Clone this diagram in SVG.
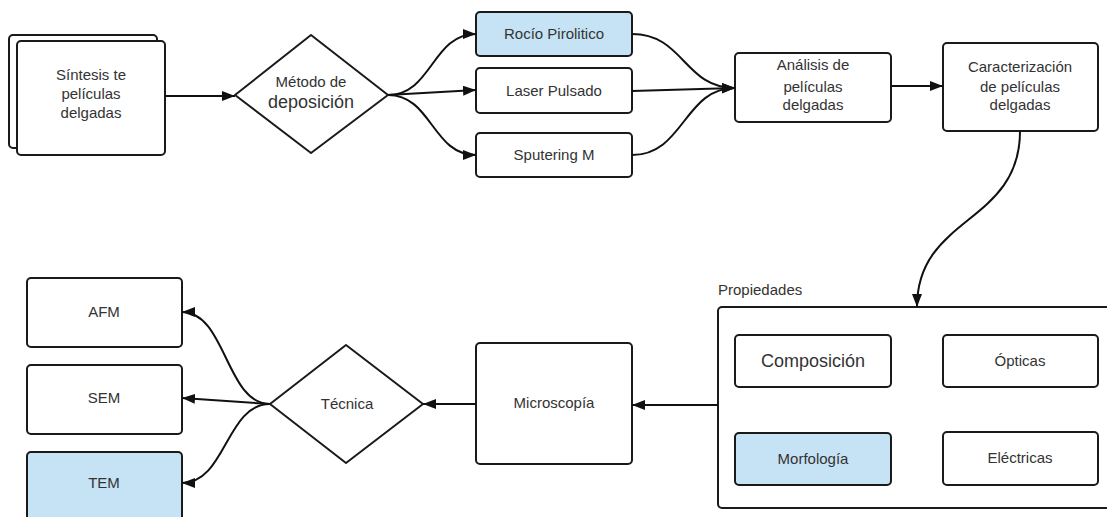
<svg xmlns="http://www.w3.org/2000/svg" width="1107" height="517" viewBox="0 0 1107 517">
  <defs>
    <marker id="arrow" markerUnits="userSpaceOnUse" markerWidth="14" markerHeight="12" refX="13" refY="5" orient="auto">
      <path d="M0,0 L13,5 L0,10 Z" fill="#111"/>
    </marker>
    <style>
      .box { fill: #ffffff; stroke: #1a1a1a; stroke-width: 2; }
      .hl { fill: #c6e3f5; }
      .lbl { font-family: "Liberation Sans", Arial, sans-serif; font-size: 15px; fill: #333; text-anchor: middle; }
      .big { font-size: 18px; }
      .edge { fill: none; stroke: #111; stroke-width: 2; marker-end: url(#arrow); }
    </style>
  </defs>
  <rect width="1107" height="517" fill="#ffffff"/>

  <!-- stacked source document -->
  <g id="sintesis">
    <rect class="box" x="9" y="35" width="148" height="113" rx="4"/>
    <rect class="box" x="17" y="41" width="148" height="114" rx="4"/>
    <text class="lbl" x="91" y="80">Síntesis te</text>
    <text class="lbl" x="91" y="99">películas</text>
    <text class="lbl" x="91" y="118">delgadas</text>
  </g>

  <g id="metodo">
    <path class="box" d="M311,35 L388,95 L311,153 L235,95 Z" stroke-linejoin="round"/>
    <text class="lbl" x="311" y="87">Método de</text>
    <text class="lbl big" x="311" y="108">deposición</text>
  </g>

  <g id="rocio">
    <rect class="box hl" x="476" y="12" width="156" height="44" rx="4"/>
    <text class="lbl" x="554" y="39">Rocío Pirolitico</text>
  </g>
  <g id="laser">
    <rect class="box" x="476" y="68" width="156" height="45" rx="4"/>
    <text class="lbl" x="554" y="96">Laser Pulsado</text>
  </g>
  <g id="sputering">
    <rect class="box" x="476" y="133" width="156" height="44" rx="4"/>
    <text class="lbl" x="554" y="160">Sputering M</text>
  </g>

  <g id="analisis">
    <rect class="box" x="735" y="53" width="156" height="69" rx="4"/>
    <text class="lbl" x="813" y="70">Análisis de</text>
    <text class="lbl" x="813" y="92">películas</text>
    <text class="lbl" x="813" y="110">delgadas</text>
  </g>
  <g id="caracterizacion">
    <rect class="box" x="943" y="43" width="155" height="88" rx="4"/>
    <text class="lbl" x="1020" y="72">Caracterización</text>
    <text class="lbl" x="1020" y="92">de películas</text>
    <text class="lbl" x="1020" y="110">delgadas</text>
  </g>

  <!-- properties container -->
  <g id="propiedades">
    <text class="lbl" x="718" y="295" style="text-anchor:start">Propiedades</text>
    <rect class="box" x="718" y="307" width="410" height="201" rx="4"/>
  </g>
  <g id="composicion">
    <rect class="box" x="735" y="335" width="156" height="52" rx="4"/>
    <text class="lbl big" x="813" y="367">Composición</text>
  </g>
  <g id="opticas">
    <rect class="box" x="943" y="335" width="155" height="52" rx="4"/>
    <text class="lbl" x="1020" y="366">Ópticas</text>
  </g>
  <g id="morfologia">
    <rect class="box hl" x="735" y="433" width="156" height="52" rx="4"/>
    <text class="lbl" x="813" y="464">Morfología</text>
  </g>
  <g id="electricas">
    <rect class="box" x="943" y="432" width="155" height="53" rx="4"/>
    <text class="lbl" x="1020" y="463">Eléctricas</text>
  </g>

  <g id="microscopia">
    <rect class="box" x="476" y="343" width="156" height="121" rx="4"/>
    <text class="lbl" x="554" y="408">Microscopía</text>
  </g>

  <g id="tecnica">
    <path class="box" d="M346,345 L423,404 L346,463 L270,404 Z" stroke-linejoin="round"/>
    <text class="lbl" x="347" y="409">Técnica</text>
  </g>

  <g id="afm">
    <rect class="box" x="27" y="278" width="155" height="69" rx="4"/>
    <text class="lbl" x="104" y="317">AFM</text>
  </g>
  <g id="sem">
    <rect class="box" x="27" y="365" width="155" height="69" rx="4"/>
    <text class="lbl" x="104" y="403">SEM</text>
  </g>
  <g id="tem">
    <rect class="box hl" x="27" y="452" width="155" height="75" rx="4"/>
    <text class="lbl" x="104" y="488">TEM</text>
  </g>

  <g id="connectors">
    <path class="edge" d="M165,96 L235,96"/>
    <path class="edge" d="M388,95 C432,95 432,34 476,34"/>
    <path class="edge" d="M388,95 L476,90"/>
    <path class="edge" d="M388,95 C432,95 432,155 476,155"/>
    <path class="edge" d="M632,34 C684,34 684,88 735,88"/>
    <path class="edge" d="M632,91 L735,88"/>
    <path class="edge" d="M632,155 C684,155 684,88 735,88"/>
    <path class="edge" d="M891,86 L943,86"/>
    <path class="edge" d="M1020,131 C1020,225 917,215 917,307"/>
    <path class="edge" d="M718,405 L632,405"/>
    <path class="edge" d="M476,404 L423,404"/>
    <path class="edge" d="M270,404 C226,404 226,312 182,312"/>
    <path class="edge" d="M270,404 L182,398"/>
    <path class="edge" d="M270,404 C226,404 226,483 182,483"/>
  </g>
</svg>
